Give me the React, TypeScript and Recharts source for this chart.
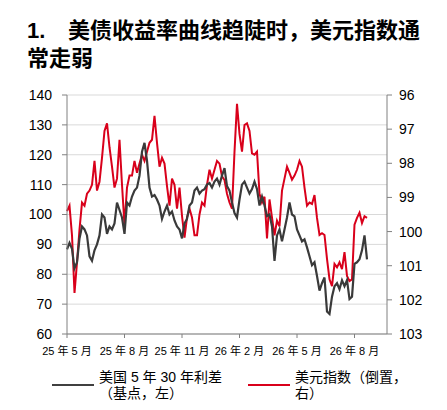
import { LineChart, Line, XAxis, YAxis, CartesianGrid } from 'recharts';

// 美国5年-30年利差（基点，左轴）
const spreadBp = [
  88.3, 90.5, 88.5, 82, 84, 92, 96, 95, 93, 86,
  84.5, 88, 90, 93, 100, 99, 93.5, 96, 95, 97,
  104, 101.5, 99, 93.5, 104, 103, 106, 108, 109, 113,
  121, 124, 118, 109, 106, 106.5, 105, 103, 98.5, 101,
  103, 100, 101, 98, 96, 95, 92, 97, 98.5, 103,
  104, 108, 109, 107, 108, 108.5, 110, 110.5, 109, 111,
  112, 110, 113, 115.5, 109.5, 108, 104, 100.5, 99, 105,
  110, 111, 109, 107, 108.5, 111, 108.5, 103, 106, 103,
  99.5, 100, 96, 84.5, 93, 95, 91, 95, 99, 104,
  100, 99.4, 95, 93, 91, 91.7, 89, 86, 83, 84,
  79.4, 74.5, 77, 78.9, 67.5, 66.7, 72.5, 76, 77, 75,
  78, 76, 78, 71.7, 72.5, 83.5, 84, 85, 88, 93,
  85,
];

// 美元指数（倒置，右轴）
const dollarIndex = [
  99.4, 99.24, 100.11, 101.8, 100.9, 99.94, 99.15, 99.24, 98.89, 98.8,
  98.63, 97.93, 98.8, 98.54, 97.84, 97.05, 96.83, 97.53, 98.1, 98.71,
  98.45, 97.31, 98.63, 99.81, 98.71, 98.36, 98.36, 97.93, 98.28, 98.01,
  97.75, 97.93, 97.66, 97.4, 97.31, 96.61, 97.4, 98.1, 97.84, 98.01,
  98.67, 99.24, 98.45, 98.63, 99.33, 98.71, 99.54, 100.18, 99.59, 99.33,
  99.59, 100.11, 100.11, 99.5, 99.15, 99.24, 98.63, 98.19, 98.45, 98.19,
  97.93, 98.01, 98.38, 98.49, 98.89, 99.15, 99.33, 97.66, 96.26, 97.14,
  97.66, 96.88, 96.83, 97.05, 97.71, 97.75, 97.66, 98.89, 99.15, 98.98,
  100.2, 99.06, 99.59, 100.11, 99.68, 99.85, 98.8, 98.45, 98.1, 98.28,
  98.48, 98.36, 98.19, 97.93, 98.1, 98.71, 99.24, 99.15, 99.19, 98.93,
  99.6, 100.1, 100.05, 100.1, 100.8, 101.4, 101.6, 100.95, 101.05, 100.9,
  101.1, 100.6, 101.3, 101.45, 101.4, 99.8, 99.6, 99.45, 99.75, 99.55,
  99.6,
];

const monthTicks = [0, 23, 46, 69, 92, 115];
const monthLabels = ['25 年 5 月', '25 年 8 月', '25 年 11 月', '26 年 2 月', '26 年 5 月', '26 年 8 月'];
const leftTicks = [60, 70, 80, 90, 100, 110, 120, 130, 140];
const rightTicks = [96, 97, 98, 99, 100, 101, 102, 103];

const data = spreadBp.map((v, i) => ({ i, spread: v, dxy: dollarIndex[i] }));

const numFont = '"Liberation Sans", Arial, sans-serif';
const cjkFont = '"Liberation Sans", "Noto Sans CJK SC", sans-serif';

const LegendItem = ({ color, left, lines }: { color: string; left: number; lines: string[] }) => (
  <div style={{ position: 'absolute', left, top: 369, display: 'flex', alignItems: 'center' }}>
    <div style={{ width: 42, height: 2.5, background: color, marginRight: 5 }} />
    <div style={{ fontSize: 14, lineHeight: '16px', color: '#000', fontFamily: cjkFont }}>
      {lines.map((l) => (
        <div key={l}>{l}</div>
      ))}
    </div>
  </div>
);

export default function App() {
  return (
    <div style={{ position: 'absolute', left: 0, top: 0, width: 447, height: 410, background: '#fff' }}>
      <div
        style={{
          position: 'absolute',
          left: 27,
          top: 17,
          fontFamily: cjkFont,
          fontWeight: 700,
          fontSize: 22,
          lineHeight: '28px',
          color: '#000',
          whiteSpace: 'nowrap',
        }}
      >
        <span style={{ display: 'inline-block', width: 41 }}>1.</span>
        美债收益率曲线趋陡时，美元指数通
        <br />
        常走弱
      </div>
      <div style={{ position: 'absolute', left: 0, top: 0 }}>
        <LineChart width={447} height={410} data={data} margin={{ top: 95, right: 10, bottom: 46, left: 7 }}>
          <CartesianGrid yAxisId="left" vertical={false} stroke="#d9d9d9" />
          <XAxis
            dataKey="i"
            type="number"
            domain={[0, 128]}
            ticks={monthTicks}
            tickFormatter={(v: number) => monthLabels[monthTicks.indexOf(v)] ?? ''}
            height={30}
            tickSize={4}
            tickMargin={9}
            stroke="#808080"
            tick={{ fill: '#000', fontSize: 11, fontFamily: cjkFont }}
            interval={0}
          />
          <YAxis
            yAxisId="left"
            domain={[60, 140]}
            ticks={leftTicks}
            width={60}
            tickSize={5}
            tickMargin={10}
            stroke="#808080"
            tick={{ fill: '#000', fontSize: 14, fontFamily: numFont }}
            interval={0}
          />
          <YAxis
            yAxisId="right"
            orientation="right"
            reversed
            domain={[96, 103]}
            ticks={rightTicks}
            width={50}
            tickSize={5}
            tickMargin={7}
            stroke="#808080"
            tick={{ fill: '#000', fontSize: 14, fontFamily: numFont }}
            interval={0}
          />
          <Line
            yAxisId="right"
            dataKey="dxy"
            type="linear"
            stroke="#d9001b"
            strokeWidth={2}
            dot={false}
            isAnimationActive={false}
          />
          <Line
            yAxisId="left"
            dataKey="spread"
            type="linear"
            stroke="#3a3a3a"
            strokeWidth={2.2}
            dot={false}
            isAnimationActive={false}
          />
        </LineChart>
      </div>
      <LegendItem color="#404040" left={52} lines={['美国 5 年 30 年利差', '（基点，左）']} />
      <LegendItem color="#d9001b" left={248} lines={['美元指数（倒置，', '右）']} />
    </div>
  );
}
